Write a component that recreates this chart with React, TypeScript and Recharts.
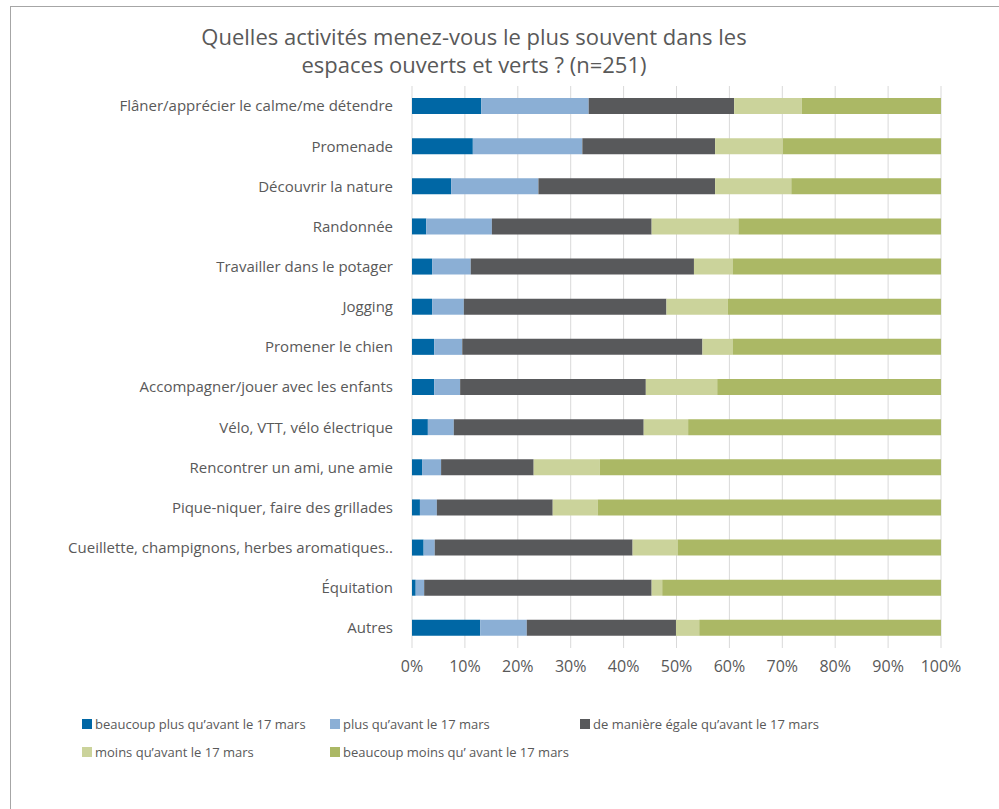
import { BarChart, Bar, XAxis, YAxis, CartesianGrid } from "recharts";

const categories = [
  "Flâner/apprécier le calme/me détendre",
  "Promenade",
  "Découvrir la nature",
  "Randonnée",
  "Travailler dans le potager",
  "Jogging",
  "Promener le chien",
  "Accompagner/jouer avec les enfants",
  "Vélo, VTT, vélo électrique",
  "Rencontrer un ami, une amie",
  "Pique-niquer, faire des grillades",
  "Cueillette, champignons, herbes aromatiques..",
  "Équitation",
  "Autres",
];

const beaucoupPlus = [13.1, 11.5, 7.4, 2.7, 3.8, 3.8, 4.2, 4.2, 3.0, 1.9, 1.5, 2.2, 0.7, 12.9];
const plus = [20.3, 20.7, 16.5, 12.4, 7.3, 6.0, 5.3, 4.9, 4.9, 3.6, 3.2, 2.1, 1.6, 8.8];
const egale = [27.5, 25.1, 33.4, 30.2, 42.2, 38.3, 45.4, 35.1, 35.9, 17.5, 21.9, 37.4, 43.0, 28.2];
const moins = [12.8, 12.8, 14.4, 16.4, 7.3, 11.6, 5.7, 13.5, 8.4, 12.5, 8.5, 8.5, 2.0, 4.4];
const beaucoupMoins = [26.3, 29.9, 28.3, 38.3, 39.4, 40.3, 39.4, 42.3, 47.8, 64.5, 64.9, 49.8, 52.7, 45.7];

const xTicks = [0, 10, 20, 30, 40, 50, 60, 70, 80, 90, 100];

const series = [
  { key: "bp", name: "beaucoup plus qu\u2019avant le 17 mars", values: beaucoupPlus, color: "#0067a5" },
  { key: "p", name: "plus qu\u2019avant le 17 mars", values: plus, color: "#8bafd5" },
  { key: "e", name: "de manière égale qu\u2019avant le 17 mars", values: egale, color: "#58595b" },
  { key: "m", name: "moins qu\u2019avant le 17 mars", values: moins, color: "#cbd39b" },
  { key: "bm", name: "beaucoup moins qu\u2019 avant le 17 mars", values: beaucoupMoins, color: "#abb865" },
];

const data = categories.map((name, i) => {
  const row: Record<string, any> = { name };
  series.forEach((s) => (row[s.key] = s.values[i]));
  return row;
});

const font = "'Open Sans', 'Noto Sans', sans-serif";
const textColor = "#595959";

// legend slots (square's left edge, row centre)
const legendPos = [
  { left: 82, y: 724 },
  { left: 330, y: 724 },
  { left: 580, y: 724 },
  { left: 82, y: 752 },
  { left: 330, y: 752 },
];

export default function App() {
  return (
    <div style={{ position: "absolute", left: 0, top: 0, width: 999, height: 809, overflow: "hidden", background: "#fff", fontFamily: font }}>
      <div style={{ position: "absolute", left: 10, top: 6, width: 1100, height: 900, border: "1px solid #a6a6a6" }} />
      <div style={{ position: "absolute", left: 0, top: 22, width: 948, textAlign: "center", fontSize: 22, lineHeight: "28px", color: textColor }}>
        Quelles activités menez-vous le plus souvent dans les
        <br />
        espaces ouverts et verts ? (n=251)
      </div>
      <div style={{ position: "absolute", left: 0, top: 0 }}>
        <BarChart
          width={999}
          height={700}
          data={data}
          layout="vertical"
          margin={{ top: 86, right: 58, bottom: 22, left: 0 }}
          barSize={16}
        >
          <CartesianGrid horizontal={false} stroke="#d9d9d9" />
          <XAxis
            type="number"
            domain={[0, 100]}
            ticks={xTicks}
            tickFormatter={(v) => `${v}%`}
            axisLine={false}
            tickLine={false}
            tickMargin={7}
            height={30}
            interval={0}
            tick={{ fill: textColor, fontSize: 16, fontFamily: font }}
          />
          <YAxis
            type="category"
            dataKey="name"
            width={412}
            axisLine={false}
            tickLine={false}
            tickMargin={13}
            interval={0}
            tick={{ fill: textColor, fontSize: 15, fontFamily: font }}
          />
          {series.map((s) => (
            <Bar key={s.key} dataKey={s.key} name={s.name} stackId="a" fill={s.color} isAnimationActive={false} />
          ))}
        </BarChart>
      </div>
      {series.map((s, i) => (
        <div
          key={s.key}
          style={{ position: "absolute", left: legendPos[i].left, top: legendPos[i].y - 10, height: 20, display: "flex", alignItems: "center", fontSize: 13, color: textColor, whiteSpace: "nowrap" }}
        >
          <span style={{ display: "inline-block", width: 10, height: 10, background: s.color, marginRight: 3 }} />
          {s.name}
        </div>
      ))}
    </div>
  );
}
